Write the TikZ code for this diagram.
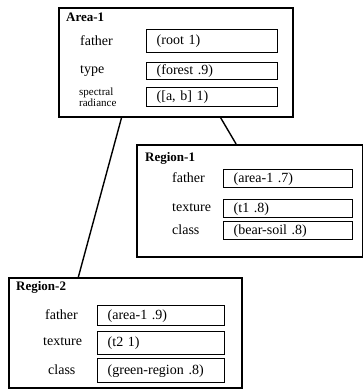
\documentclass[tikz,border=0pt]{standalone}
\usepackage{fontspec}
\setmainfont{Liberation Serif}
\usetikzlibrary{calc}
\tikzset{
  outerbox/.style={draw, line width=1.5pt, anchor=north west, inner sep=0pt},
  valbox/.style={draw, line width=1.4pt, anchor=north west, inner ysep=0pt, inner xsep=10pt, align=left, font=\fontsize{14}{15}\selectfont},
  lbl/.style={anchor=west, inner sep=0pt, font=\fontsize{14}{15}\selectfont},
  ttl/.style={anchor=west, inner sep=0pt, font=\fontsize{13}{14}\bfseries},
  conn/.style={line width=1.4pt}
}
\begin{document}
\begin{tikzpicture}[x=1pt,y=-1pt]
\useasboundingbox (0,0) rectangle (363,389);
% Area-1
\node[outerbox, minimum width=234pt, minimum height=109pt] (area) at (58,7) {};
\node[ttl] (areat) at (66,17) {Area-1};
\node[lbl] (a1fl) at (80,40.5) {father};
\node[lbl] (a1tl) at (80,71) {type};
\node[lbl, align=left, font=\fontsize{11}{10.5}\selectfont] (a1sl) at (79,97) {spectral\\radiance};
\node[valbox, text width=111pt, minimum height=23pt] (a1f) at (146,29) {(root 1)};
\node[valbox, text width=111pt, minimum height=17pt] (a1t) at (146,62) {(forest .9)};
\node[valbox, text width=111pt, minimum height=19pt] (a1s) at (146,87) {([a, b] 1)};
% Region-1
\node[outerbox, minimum width=226pt, minimum height=112pt] (reg1) at (136,144) {};
\node[ttl] (reg1t) at (145,158) {Region-1};
\node[lbl] (r1fl) at (172,178) {father};
\node[lbl] (r1tl) at (172,208) {texture};
\node[lbl] (r1cl) at (172,230) {class};
\node[valbox, text width=109pt, minimum height=18pt] (r1f) at (223,169) {(area-1 .7)};
\node[valbox, text width=109pt, minimum height=18pt] (r1t) at (223,199) {(t1 .8)};
\node[valbox, text width=109pt, minimum height=18pt] (r1c) at (223,221) {(bear-soil .8)};
% Region-2
\node[outerbox, minimum width=233pt, minimum height=110pt] (reg2) at (8,277) {};
\node[ttl] (reg2t) at (16,287) {Region-2};
\node[lbl] (r2fl) at (45,315) {father};
\node[lbl] (r2tl) at (43,342) {texture};
\node[lbl] (r2cl) at (48,370) {class};
\node[valbox, text width=107pt, minimum height=20pt] (r2f) at (97,305) {(area-1 .9)};
\node[valbox, text width=107pt, minimum height=23pt] (r2t) at (97,331) {(t2 1)};
\node[valbox, text width=107pt, minimum height=24pt] (r2c) at (97,358) {(green-region .8)};
% connectors
\draw[conn] ($(area.south west)!0.27!(area.south east)$) -- ($(reg2.north west)!0.30!(reg2.north east)$);
\draw[conn] ($(area.south west)!0.69!(area.south east)$) -- ($(reg1.north west)!0.44!(reg1.north east)$);
\end{tikzpicture}
\end{document}
